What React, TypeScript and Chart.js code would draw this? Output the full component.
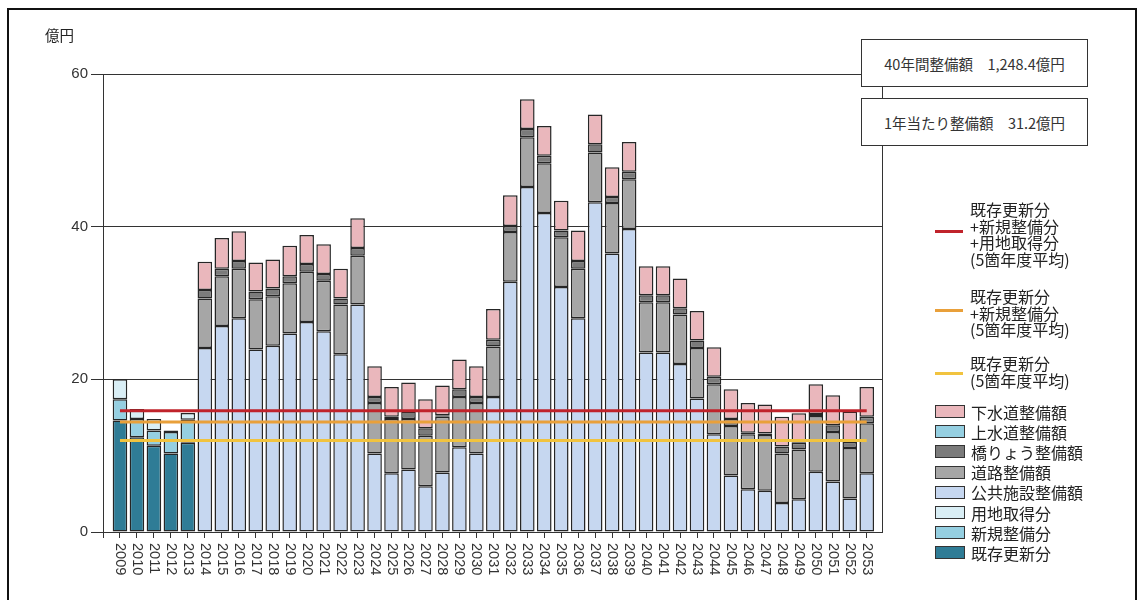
import React, { useEffect, useRef } from 'react';
import { Chart, registerables } from 'chart.js';

Chart.register(...registerables);

// ---- data ----
const earlyYears = [2009, 2010, 2011, 2012, 2013];
const lateYears = [
  2014, 2015, 2016, 2017, 2018, 2019, 2020, 2021, 2022, 2023,
  2024, 2025, 2026, 2027, 2028, 2029, 2030, 2031, 2032, 2033,
  2034, 2035, 2036, 2037, 2038, 2039, 2040, 2041, 2042, 2043,
  2044, 2045, 2046, 2047, 2048, 2049, 2050, 2051, 2052, 2053,
];
const years = [...earlyYears, ...lateYears];

// 2009-2013
const kizon = [14.6, 12.4, 11.3, 10.3, 11.7];   // 既存更新分
const shinki = [2.8, 2.4, 2.0, 2.8, 3.0];      // 新規整備分
const yochi = [2.6, 1.3, 1.5, 0.2, 0.9];       // 用地取得分

// 2014-2053
const koukyou = [
  24.1, 27.0, 28.0, 23.9, 24.4, 26.0, 27.5, 26.3, 23.3, 29.8,
  10.3, 7.7, 8.2, 6.0, 7.8, 11.1, 10.3, 17.7, 32.8, 45.2,
  41.8, 32.1, 28.0, 43.2, 36.5, 39.7, 23.5, 23.5, 22.0, 17.5,
  12.8, 7.4, 5.6, 5.4, 3.8, 4.3, 7.9, 6.6, 4.4, 7.7,
]; // 公共施設整備額
const douro = [
  6.5, 6.5, 6.5, 6.6, 6.5, 6.6, 6.6, 6.6, 6.5, 6.4,
  6.6, 7.1, 6.6, 6.6, 7.3, 6.6, 6.6, 6.6, 6.5, 6.5,
  6.5, 6.5, 6.5, 6.5, 6.6, 6.5, 6.6, 6.6, 6.5, 6.6,
  6.55, 6.5, 7.2, 7.3, 6.5, 6.5, 7.3, 6.5, 6.6, 6.55,
]; // 道路整備額
const kyouryou = [
  1.1, 1.0, 1.0, 1.0, 1.0, 0.9, 1.0, 0.9, 0.8, 1.0,
  0.8, 0.3, 1.0, 1.0, 0.2, 1.0, 0.8, 0.9, 0.8, 1.1,
  1.0, 0.9, 1.0, 1.1, 0.8, 1.0, 0.9, 0.9, 0.8, 1.0,
  1.0, 0.9, 0.2, 0.2, 0.9, 0.9, 0.25, 0.9, 0.8, 0.85,
]; // 橋りょう整備額
const jousui = [
  0, 0, 0, 0, 0, 0, 0, 0, 0, 0,
  0, 0, 0, 0, 0, 0, 0, 0, 0, 0,
  0, 0, 0, 0, 0, 0, 0, 0, 0, 0,
  0, 0, 0, 0, 0, 0, 0, 0, 0, 0,
]; // 上水道整備額
const gesui = [
  3.7, 4.0, 3.9, 3.8, 3.8, 4.0, 3.8, 3.9, 3.9, 3.9,
  4.0, 3.9, 3.8, 3.8, 3.9, 3.9, 4.0, 4.0, 4.0, 3.9,
  3.9, 3.9, 4.0, 3.9, 3.9, 3.9, 3.8, 3.8, 3.9, 3.85,
  3.85, 3.9, 3.9, 3.8, 3.9, 3.85, 3.9, 3.9, 4.0, 3.9,
]; // 下水道整備額

// 5箇年度平均 lines
const avgAll = 15.9;    // 既存更新分+新規整備分+用地取得分
const avgKS = 14.4;     // 既存更新分+新規整備分
const avgK = 12.0;      // 既存更新分

const yTicks = [0, 20, 40, 60];

const C = {
  kizon: '#2f7c96',
  shinki: '#95cfe1',
  yochi: '#d9eef5',
  koukyou: '#c6d7f0',
  douro: '#a6a6a6',
  kyouryou: '#7b7b7b',
  jousui: '#95cfe1',
  gesui: '#eab7bc',
  red: '#c0232b',
  orange: '#e9a03a',
  yellow: '#f1c33f',
  edge: '#262626',
};

const boxLegend = [
  { label: '下水道整備額', color: C.gesui },
  { label: '上水道整備額', color: C.jousui },
  { label: '橋りょう整備額', color: C.kyouryou },
  { label: '道路整備額', color: C.douro },
  { label: '公共施設整備額', color: C.koukyou },
  { label: '用地取得分', color: C.yochi },
  { label: '新規整備分', color: C.shinki },
  { label: '既存更新分', color: C.kizon },
];

const lineLegend = [
  { lines: ['既存更新分', '+新規整備分', '+用地取得分', '(5箇年度平均)'], color: C.red, top: 201, marker: 231 },
  { lines: ['既存更新分', '+新規整備分', '(5箇年度平均)'], color: C.orange, top: 288, marker: 310 },
  { lines: ['既存更新分', '(5箇年度平均)'], color: C.yellow, top: 355, marker: 373 },
];

const JP = '"Noto Sans CJK JP", "Noto Sans", sans-serif';
const NUM = '"Liberation Sans", Arial, sans-serif';

export default function App() {
  const ref = useRef<HTMLCanvasElement>(null);

  useEffect(() => {
    if (!ref.current) return;
    const barDs = (label: string, xs: number[], ys: number[], color: string) => ({
      type: 'bar' as const,
      label,
      data: xs.map((x, i) => ({ x, y: ys[i] })),
      backgroundColor: color,
      borderColor: C.edge,
      borderWidth: 1.5,
      borderSkipped: false,
      stack: 'bars',
      barPercentage: 0.86,
      categoryPercentage: 1.0,
      order: 2,
    });
    const lineDs = (label: string, v: number, color: string, st: string) => ({
      type: 'line' as const,
      label,
      data: [
        { x: years[0], y: v },
        { x: years[years.length - 1], y: v },
      ],
      borderColor: color,
      borderWidth: 3,
      pointRadius: 0,
      fill: false,
      stack: st,
      order: 0,
    });

    const yearLabels = {
      id: 'yearLabels',
      afterDraw(chart: any) {
        const xs = chart.scales.x;
        const ctx = chart.ctx;
        ctx.save();
        ctx.font = `14.5px ${NUM}`;
        ctx.fillStyle = '#333';
        ctx.textAlign = 'left';
        ctx.textBaseline = 'middle';
        years.forEach((y) => {
          const px = xs.getPixelForValue(y);
          ctx.save();
          ctx.translate(px, chart.chartArea.bottom + 11);
          ctx.rotate(Math.PI / 2);
          ctx.fillText(String(y), 0, 0);
          ctx.restore();
        });
        ctx.restore();
      },
    };

    const chart = new Chart(ref.current, {
      data: {
        datasets: [
          lineDs('既存更新分+新規整備分+用地取得分(5箇年度平均)', avgAll, C.red, 'l1'),
          lineDs('既存更新分+新規整備分(5箇年度平均)', avgKS, C.orange, 'l2'),
          lineDs('既存更新分(5箇年度平均)', avgK, C.yellow, 'l3'),
          barDs('既存更新分', earlyYears, kizon, C.kizon),
          barDs('新規整備分', earlyYears, shinki, C.shinki),
          barDs('用地取得分', earlyYears, yochi, C.yochi),
          barDs('公共施設整備額', lateYears, koukyou, C.koukyou),
          barDs('道路整備額', lateYears, douro, C.douro),
          barDs('橋りょう整備額', lateYears, kyouryou, C.kyouryou),
          barDs('上水道整備額', lateYears, jousui, C.jousui),
          barDs('下水道整備額', lateYears, gesui, C.gesui),
        ] as any,
      },
      options: {
        animation: false,
        responsive: false,
        devicePixelRatio: 1,
        layout: { padding: { top: 74, right: 257, bottom: 0, left: 0 } },
        plugins: { legend: { display: false }, tooltip: { enabled: false } },
        events: [],
        scales: {
          x: {
            type: 'linear',
            offset: false,
            min: years[0] - 1,
            max: years[years.length - 1] + 0.9,
            afterBuildTicks: (s: any) => {
              s.ticks = [years[0] - 1, ...years].map((v) => ({ value: v }));
            },
            afterFit: (s: any) => {
              s.height = 68;
            },
            ticks: { display: false },
            grid: { offset: false, drawOnChartArea: false, drawTicks: true, tickLength: 6, color: '#333', lineWidth: 1 },
            border: { display: true, color: '#333', width: 1 },
          },
          y: {
            stacked: true,
            min: 0,
            max: 60,
            afterBuildTicks: (s: any) => {
              s.ticks = yTicks.map((v) => ({ value: v }));
            },
            afterFit: (s: any) => {
              s.width = 103;
            },
            ticks: { font: { size: 15, family: NUM }, color: '#333', padding: 3 },
            grid: { color: '#333', lineWidth: 1, tickLength: 12 },
            border: { display: true, color: '#333', width: 1 },
          },
          y2: {
            position: 'right',
            display: true,
            min: 0,
            max: 60,
            ticks: { display: false },
            grid: { drawOnChartArea: false, drawTicks: false },
            border: { display: true, color: '#333', width: 1 },
            afterFit: (s: any) => {
              s.width = 0;
            },
          },
        },
      } as any,
      plugins: [yearLabels],
    });
    return () => chart.destroy();
  }, []);

  return (
    <div style={{ position: 'fixed', left: 0, top: 0, width: 1139, height: 600, background: '#fff', overflow: 'hidden' }}>
      <canvas ref={ref} width={1139} height={600} style={{ position: 'absolute', left: 0, top: 0, width: 1139, height: 600 }} />
      <div style={{ position: 'absolute', left: 7, top: 8, width: 1130, height: 600, border: '2px solid #111', boxSizing: 'border-box', pointerEvents: 'none' }} />
      <div style={{ position: 'absolute', left: 45, top: 26, font: `14.5px ${JP}`, color: '#222', lineHeight: '18px' }}>億円</div>

      <div style={{ position: 'absolute', left: 861, top: 39, width: 227, height: 48, boxSizing: 'border-box', border: '1.5px solid #333', background: '#fff', display: 'flex', alignItems: 'center', justifyContent: 'center', font: `14.5px ${JP}`, color: '#333', whiteSpace: 'pre' }}>
        {'40年間整備額　1,248.4億円'}
      </div>
      <div style={{ position: 'absolute', left: 861, top: 98, width: 227, height: 48, boxSizing: 'border-box', border: '1.5px solid #333', background: '#fff', display: 'flex', alignItems: 'center', justifyContent: 'center', font: `14.5px ${JP}`, color: '#333', whiteSpace: 'pre' }}>
        {'1年当たり整備額　31.2億円'}
      </div>

      {lineLegend.map((it, i) => (
        <React.Fragment key={i}>
          <div style={{ position: 'absolute', left: 935, top: it.marker - 1.5, width: 28, height: 3, background: it.color }} />
          <div style={{ position: 'absolute', left: 970, top: it.top, font: `16px ${JP}`, lineHeight: '16.5px', color: '#222', whiteSpace: 'pre' }}>
            {it.lines.map((l, j) => (
              <div key={j}>{l}</div>
            ))}
          </div>
        </React.Fragment>
      ))}

      {boxLegend.map((it, i) => (
        <div key={i} style={{ position: 'absolute', left: 935, top: 401.5 + i * 20.2, height: 20, display: 'flex', alignItems: 'center', font: `16px ${JP}`, color: '#222', whiteSpace: 'pre' }}>
          <div style={{ width: 30, height: 13, boxSizing: 'border-box', border: '1.5px solid #333', background: it.color, marginRight: 6 }} />
          <span style={{ lineHeight: '20px' }}>{it.label}</span>
        </div>
      ))}
    </div>
  );
}
